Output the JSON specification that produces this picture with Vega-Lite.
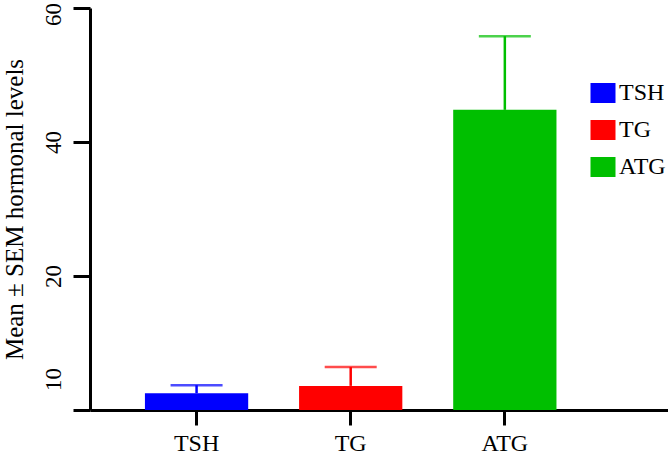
{
  "$schema": "https://vega.github.io/schema/vega-lite/v6.json",
  "width": 578,
  "height": 402,
  "autosize": "none",
  "padding": {"left": 90, "top": 8, "right": 0, "bottom": 51},
  "background": "white",
  "config": {
    "view": {"stroke": null},
    "font": "Liberation Serif",
    "axis": {"grid": false, "domainColor": "black", "tickColor": "black", "domainWidth": 3, "tickWidth": 3, "labelColor": "black", "titleColor": "black", "labelFont": "Liberation Serif", "titleFont": "Liberation Serif", "labelFontSize": 23, "titleFontSize": 25, "titleFontWeight": "normal"}
  },
  "data": {
    "values": [
      {"hormone": "TSH", "mean": 2.5, "upper": 3.7},
      {"hormone": "TG", "mean": 3.6, "upper": 6.4},
      {"hormone": "ATG", "mean": 44.8, "upper": 55.8}
    ]
  },
  "encoding": {
    "x": {
      "field": "hormone", "type": "nominal", "sort": ["TSH", "TG", "ATG"],
      "scale": {"paddingInner": 0.33, "paddingOuter": 0.54, "align": 0.33},
      "axis": {"title": null, "labelAngle": 0, "tickSize": 15, "labelPadding": 6, "labelFontSize": 24}
    },
    "color": {
      "field": "hormone", "type": "nominal", "sort": ["TSH", "TG", "ATG"],
      "scale": {"domain": ["TSH", "TG", "ATG"], "range": ["#0000FF", "#FF0000", "#00BF00"]},
      "legend": {
        "title": null, "orient": "none", "legendX": 501, "legendY": 73,
        "symbolType": "M-1.25,-1H1.25V1H-1.25Z", "symbolSize": 400, "symbolStrokeWidth": 0, "symbolOpacity": 1,
        "labelFontSize": 24, "labelFont": "Liberation Serif", "labelColor": "black", "rowPadding": 13, "labelOffset": 4
      }
    }
  },
  "layer": [
    {
      "mark": {"type": "bar"},
      "encoding": {
        "y": {
          "field": "mean", "type": "quantitative",
          "scale": {"domain": [0, 60], "nice": false},
          "axis": {
            "title": "Mean ± SEM hormonal levels", "values": [0, 20, 40, 60], "tickSize": 17,
            "labelAngle": -90, "labelExpr": "datum.value == 0 ? '10' : datum.label", "labelPadding": 8, "titlePadding": 15,
            "labelOffset": {"condition": [{"test": "datum.value == 0", "value": -31}, {"test": "datum.value == 60", "value": 6}], "value": 0}
          }
        }
      }
    },
    {
      "mark": {"type": "rule", "strokeWidth": 2.5},
      "encoding": {"y": {"field": "mean", "type": "quantitative"}, "y2": {"field": "upper"}}
    },
    {
      "mark": {"type": "tick", "size": 52, "thickness": 2.5},
      "encoding": {"y": {"field": "upper", "type": "quantitative"}}
    }
  ]
}
